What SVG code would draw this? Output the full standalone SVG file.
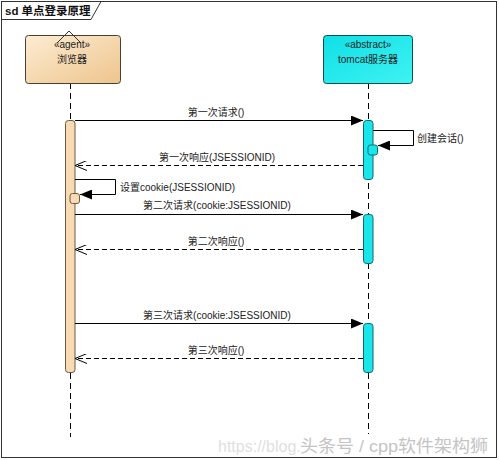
<svg xmlns="http://www.w3.org/2000/svg" width="499" height="460" viewBox="0 0 499 460">
<defs>
<linearGradient id="gAgent" x1="0" y1="0" x2="1" y2="1">
<stop offset="0" stop-color="#fcecd2"/>
<stop offset="1" stop-color="#eec48c"/>
</linearGradient>
<linearGradient id="gTom" x1="0" y1="0" x2="1" y2="1">
<stop offset="0" stop-color="#10e0e6"/>
<stop offset="1" stop-color="#3ff2f2"/>
</linearGradient>
<marker id="fill" viewBox="0 0 12 10" refX="12" refY="5" markerWidth="12" markerHeight="10" markerUnits="userSpaceOnUse" orient="auto">
<path d="M0,0 L12,5 L0,10 Z" fill="#000"/>
</marker>
<marker id="open" viewBox="0 0 12 10" refX="12" refY="5" markerWidth="12" markerHeight="10" markerUnits="userSpaceOnUse" orient="auto">
<path d="M0,0 L12,5 L0,10" fill="none" stroke="#000" stroke-width="1"/>
</marker>
</defs>
<style>
text{font-family:"Liberation Sans","Noto Sans CJK SC",sans-serif;font-size:10px;fill:#222}
.c{text-anchor:middle}
.life{stroke:#000;stroke-width:1;stroke-dasharray:6,4;fill:none}
.msg{stroke:#000;stroke-width:1;fill:none;marker-end:url(#fill)}
.rep{stroke:#000;stroke-width:1;fill:none;stroke-dasharray:5,3;marker-end:url(#open)}
.actA{fill:#f8dbb4;stroke:#6a5a40;stroke-width:1}
.actT{fill:#19e6ea;stroke:#106870;stroke-width:1}
</style>
<rect x="0" y="0" width="499" height="460" fill="#fff"/>
<g id="frame">
<rect x="1.5" y="1.5" width="495" height="456" fill="none" stroke="#333" stroke-width="1"/>
<path d="M1.5,19.5 L91,19.5 L101,1.5" fill="none" stroke="#333" stroke-width="1"/>
<text x="5" y="15" style="font-size:11.5px;font-weight:bold;fill:#111">sd 单点登录原理</text>
</g>
<g id="browser">
<line class="life" x1="70.5" y1="83" x2="70.5" y2="437"/>
<rect x="25.5" y="35.5" width="95" height="48" rx="3" fill="url(#gAgent)" stroke="#4a4030" stroke-width="1"/>
<path d="M57,43 L69,31 L81,43" fill="none" stroke="#333" stroke-width="1"/>
<text class="c" x="72" y="48">«agent»</text>
<text class="c" x="72" y="63">浏览器</text>
<rect class="actA" x="65.5" y="120.5" width="9.5" height="252" rx="3"/>
<rect class="actA" x="70" y="193.5" width="9.5" height="10" rx="2.5"/>
</g>
<g id="tomcat">
<line class="life" x1="368.5" y1="83" x2="368.5" y2="434"/>
<rect x="323.5" y="35.5" width="89" height="48" rx="3" fill="url(#gTom)" stroke="#105050" stroke-width="1"/>
<text class="c" x="368" y="48">«abstract»</text>
<text class="c" x="368" y="63">tomcat服务器</text>
<rect class="actT" x="363.5" y="120.5" width="9.5" height="59" rx="3"/>
<rect class="actT" x="368" y="145" width="9.5" height="10" rx="2.5"/>
<rect class="actT" x="363.5" y="214.5" width="9.5" height="49" rx="3"/>
<rect class="actT" x="363.5" y="323.5" width="9.5" height="49" rx="3"/>
</g>
<g id="connectors">
<line class="msg" x1="75" y1="120.5" x2="363" y2="120.5"/>
<text class="c" x="216" y="116">第一次请求()</text>
<path class="msg" d="M373,130.5 H413.5 V145.5 H378"/>
<text x="417" y="142">创建会话()</text>
<line class="rep" x1="363" y1="165.5" x2="75" y2="165.5"/>
<text class="c" x="217" y="161">第一次响应(JSESSIONID)</text>
<path class="msg" d="M75,179.5 H115.5 V194.5 H80"/>
<text x="120" y="191">设置cookie(JSESSIONID)</text>
<line class="msg" x1="75" y1="214.5" x2="363" y2="214.5"/>
<text class="c" x="217" y="209">第二次请求(cookie:JSESSIONID)</text>
<line class="rep" x1="363" y1="249.5" x2="75" y2="249.5"/>
<text class="c" x="216" y="245">第二次响应()</text>
<line class="msg" x1="75" y1="323.5" x2="363" y2="323.5"/>
<text class="c" x="217" y="319">第三次请求(cookie:JSESSIONID)</text>
<line class="rep" x1="363" y1="358.5" x2="75" y2="358.5"/>
<text class="c" x="216" y="354">第三次响应()</text>
</g>
<g id="watermark">
<text x="218" y="452" style="font-size:16px;fill:#e0e0e0">https://blog.</text>
<text x="300" y="452" style="font-size:17px;fill:#c4c4c4" textLength="188" lengthAdjust="spacingAndGlyphs">头条号 / cpp软件架构狮</text>
</g>
</svg>
